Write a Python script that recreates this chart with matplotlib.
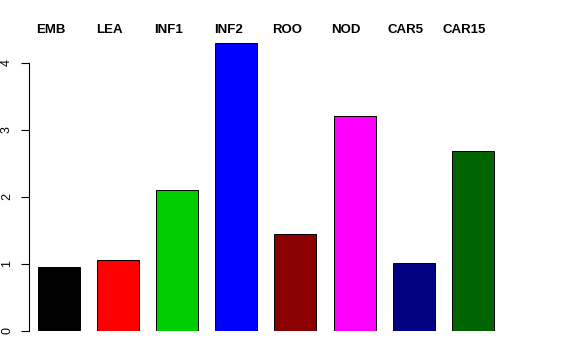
import matplotlib.pyplot as plt
import numpy as np

plt.rcParams['font.family'] = ['Liberation Sans', 'DejaVu Sans']

labels = ['EMB', 'LEA', 'INF1', 'INF2', 'ROO', 'NOD', 'CAR5', 'CAR15']
values = [0.96, 1.06, 2.11, 4.30, 1.45, 3.21, 1.02, 2.68]
colors = ['#000000', '#FF0000', '#00CD00', '#0000FF', '#8B0000', '#FF00FF', '#000080', '#006400']

fig = plt.figure(figsize=(5.76, 3.6), dpi=100)
W, H = 576, 360
ax = fig.add_axes([29 / W, 29 / H, 516 / W, 291.5 / H])

x = np.arange(len(labels))
ax.bar(x, values, width=0.71, color=colors, edgecolor='black', linewidth=0.7)

ax.set_xlim(-0.508, -0.508 + 516 / 59.1)
ax.set_ylim(0, 4.35)

for s in ['top', 'right', 'bottom']:
    ax.spines[s].set_visible(False)
ax.spines['left'].set_bounds(0, 4)
ax.spines['left'].set_linewidth(0.8)
ax.set_xticks([])
ax.set_yticks([0, 1, 2, 3, 4])
ax.tick_params(axis='y', length=5.5, width=0.8, pad=6, labelsize=9)
for t in ax.get_yticklabels():
    t.set_rotation(90)
    t.set_va('center')

for xi, lab in zip(x, labels):
    ax.text(xi - 0.14, 4.49, lab, ha='center', va='center',
            fontsize=9.5, fontweight='bold', clip_on=False)

fig.savefig('out.png', dpi=100)
